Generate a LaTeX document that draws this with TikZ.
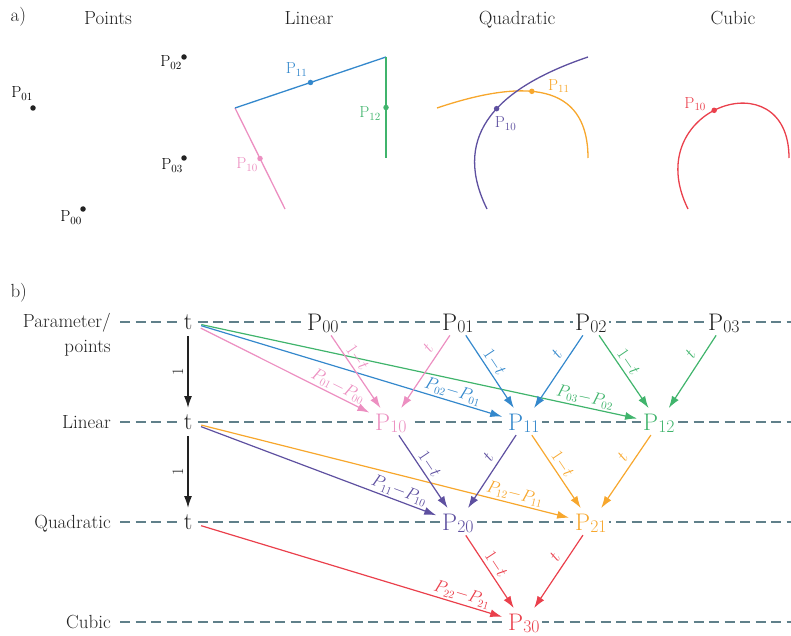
\documentclass[tikz,border=0pt]{standalone}
\usepackage{amsmath}
\usepackage{tikz}
\usetikzlibrary{arrows.meta,calc,positioning}
\definecolor{bzpink}{RGB}{236,143,193}
\definecolor{bzblue}{RGB}{52,136,204}
\definecolor{bzgreen}{RGB}{64,180,108}
\definecolor{bzpurple}{RGB}{94,80,160}
\definecolor{bzorange}{RGB}{247,167,45}
\definecolor{bzred}{RGB}{234,64,76}
\definecolor{bzrule}{RGB}{96,128,138}
\definecolor{bzink}{RGB}{34,34,34}
\newcommand\bzP[1]{P\raisebox{-.12em}{\scalebox{.74}{#1}}}
\tikzset{
 bz curve/.style={line width=1.3pt},
 bz dot/.style={circle,fill=#1,minimum size=5.5pt,inner sep=0pt,outer sep=0pt},
 bz dot/.default=bzink,
 bz point label/.style={font=\fontsize{16}{18}\selectfont,inner sep=0pt},
 bz title/.style={font=\fontsize{19}{22}\selectfont,anchor=base,text=bzink},
 bz row/.style={font=\fontsize{19}{25}\selectfont,anchor=base east,align=right,
                inner sep=0pt,text=bzink},
 bz level/.style={draw=bzrule,line width=1.4pt,dash pattern=on 10pt off 5.5pt},
 bz var/.style={font=\fontsize{24}{26}\selectfont,fill=white,inner xsep=2pt,
                inner ysep=2pt,anchor=base,text=bzink},
 bz arrow/.style={line width=1.2pt,-{Latex[length=12pt,width=8pt]},shorten >=4pt},
 bz weight label/.style={font=\fontsize{17}{19}\selectfont,sloped,above,inner sep=2pt},
 bz diff label/.style={font=\fontsize{16}{18}\selectfont,sloped,above,inner sep=2pt},
 bz t label/.style={font=\fontsize{17}{19}\selectfont,sloped,above,inner sep=5pt},
 bz unit label/.style={font=\fontsize{16}{18}\selectfont,rotate=90,anchor=south,inner sep=4pt}
}
\begin{document}
\begin{tikzpicture}[x=1pt,y=-1pt]
 \useasboundingbox (0,0) rectangle (791,636);

 % a) control points and the curves they give
 \node[bz title,anchor=base west] (lbla) at (7,22) {a)};
 \node[bz title] (ttlpts) at (108,25) {Points};
 \node[bz title] (ttllin) at (309,25) {Linear};
 \node[bz title] (ttlquad) at (517,25) {Quadratic};
 \node[bz title] (ttlcub) at (733,25) {Cubic};

 \coordinate (p00) at (83,209);
 \coordinate (p01) at (33,108);
 \coordinate (p02) at (184,57);
 \coordinate (p03) at (184,158);
 \foreach \p in {p00,p01,p02,p03} \node[bz dot] at (\p) {};
 \node[bz point label,anchor=base east] (lp00) at ($(p00)+(-1,13)$) {P$_{00}$};
 \node[bz point label,anchor=base east] (lp01) at ($(p01)+(0,-10)$) {P$_{01}$};
 \node[bz point label,anchor=base east] (lp02) at ($(p02)+(-2,10)$) {P$_{02}$};
 \node[bz point label,anchor=base east] (lp03) at ($(p03)+(-1,12)$) {P$_{03}$};

 \coordinate (l00) at (285,209);
 \coordinate (l01) at (235,108);
 \coordinate (l02) at (386,57);
 \coordinate (l03) at (386,158);
 \draw[bz curve,bzpink] (l01) -- (l00) node[bz dot=bzpink,pos=.5] (l10) {};
 \draw[bz curve,bzblue] (l01) -- (l02) node[bz dot=bzblue,pos=.5] (l11) {};
 \draw[bz curve,bzgreen] (l02) -- (l03) node[bz dot=bzgreen,pos=.5] (l12) {};
 \node[bz point label,text=bzpink,anchor=base east] (ll10) at ($(l10)+(-2,10)$) {P$_{10}$};
 \node[bz point label,text=bzblue,anchor=base east] (ll11) at ($(l11)+(-3,-9)$) {P$_{11}$};
 \node[bz point label,text=bzgreen,anchor=base east] (ll12) at ($(l12)+(-5,10)$) {P$_{12}$};

 % quadratic arcs written as cubics (controls at 2/3 towards the middle point)
 \coordinate (q00) at (487,209);
 \coordinate (q01) at (437,108);
 \coordinate (q02) at (588,57);
 \coordinate (q03) at (588,158);
 \draw[bz curve,bzorange] (q01) .. controls ($(q01)!2/3!(q02)$) and ($(q03)!2/3!(q02)$) .. (q03)
   node[bz dot=bzorange,pos=.39] (q11) {};
 \draw[bz curve,bzpurple] (q00) .. controls ($(q00)!2/3!(q01)$) and ($(q02)!2/3!(q01)$) .. (q02)
   node[bz dot=bzpurple,pos=.58] (q10) {};
 \node[bz point label,text=bzpurple,anchor=base west] (lq10) at ($(q10)+(-2,19)$) {P$_{10}$};
 \node[bz point label,text=bzorange,anchor=base west] (lq11) at ($(q11)+(16,-1)$) {P$_{11}$};

 \coordinate (c00) at (688,209);
 \coordinate (c01) at (638,108);
 \coordinate (c02) at (789,57);
 \coordinate (c03) at (789,158);
 \draw[bz curve,bzred] (c00) .. controls (c01) and (c02) .. (c03)
   node[bz dot=bzred,pos=.47] (c10) {};
 \node[bz point label,text=bzred,anchor=base east] (lc10) at ($(c10)+(-8,-2)$) {P$_{10}$};

 % b) dependency graph, one level per degree
 \node[bz title,anchor=base west] (lblb) at (7,297) {b)};
 \foreach \y in {322,422,522,622}
   \draw[bz level] (120,\y) -- (791,\y);

 \node[bz row,anchor=north east] (rpar) at (111,313) {Parameter/\\points};
 \node[bz row] (rlin) at (111,428) {Linear};
 \node[bz row] (rquad) at (111,528) {Quadratic};
 \node[bz row] (rcub) at (111,628) {Cubic};

 \node[bz var] (t0) at (188,329) {t};
 \node[bz var] (t1) at (188,429) {t};
 \node[bz var] (t2) at (188,529) {t};

 \node[bz var,anchor=base west] (P00) at (305,330) {\bzP{00}};
 \node[bz var,anchor=base west] (P01) at (440,330) {\bzP{01}};
 \node[bz var,anchor=base west] (P02) at (573,330) {\bzP{02}};
 \node[bz var,anchor=base west] (P03) at (706,330) {\bzP{03}};
 \node[bz var,anchor=base west,text=bzpink] (P10) at (373,430) {\bzP{10}};
 \node[bz var,anchor=base west,text=bzblue] (P11) at (506,430) {\bzP{11}};
 \node[bz var,anchor=base west,text=bzgreen] (P12) at (641,430) {\bzP{12}};
 \node[bz var,anchor=base west,text=bzpurple] (P20) at (440,530) {\bzP{20}};
 \node[bz var,anchor=base west,text=bzorange] (P21) at (573,530) {\bzP{21}};
 \node[bz var,anchor=base west,text=bzred] (P30) at (506,630) {\bzP{30}};

 \draw[bz arrow,bzink,line width=1.6pt,shorten <=5pt] (t0) -- node[bz unit label] {1} (t1);
 \draw[bz arrow,bzink,line width=1.6pt,shorten <=5pt] (t1) -- node[bz unit label] {1} (t2);

 % linear
 \draw[bz arrow,bzgreen,shorten <=7pt] (t0) -- node[bz diff label,pos=.87] {$P_{03}{-}P_{02}$} (P12);
 \draw[bz arrow,bzblue,shorten <=7pt] (t0) -- node[bz diff label,pos=.82] {$P_{02}{-}P_{01}$} (P11);
 \draw[bz arrow,bzpink,shorten <=7pt] (t0) -- node[bz diff label,pos=.78] {$P_{01}{-}P_{00}$} (P10);
 \draw[bz arrow,bzpink] (P00) -- node[bz weight label,pos=.36] {$1{-}t$} (P10);
 \draw[bz arrow,bzpink] (P01) -- node[bz t label,pos=.25] {$t$} (P10);
 \draw[bz arrow,bzblue] (P01) -- node[bz weight label,pos=.42] {$1{-}t$} (P11);
 \draw[bz arrow,bzblue] (P02) -- node[bz t label,pos=.33] {$t$} (P11);
 \draw[bz arrow,bzgreen] (P02) -- node[bz weight label,pos=.42] {$1{-}t$} (P12);
 \draw[bz arrow,bzgreen] (P03) -- node[bz t label,pos=.33] {$t$} (P12);

 % quadratic
 \draw[bz arrow,bzorange,shorten <=7pt] (t1) -- node[bz diff label,pos=.84] {$P_{12}{-}P_{11}$} (P21);
 \draw[bz arrow,bzpurple,shorten <=7pt] (t1) -- node[bz diff label,pos=.82] {$P_{11}{-}P_{10}$} (P20);
 \draw[bz arrow,bzpurple] (P10) -- node[bz weight label,pos=.45] {$1{-}t$} (P20);
 \draw[bz arrow,bzpurple] (P11) -- node[bz t label,pos=.37] {$t$} (P20);
 \draw[bz arrow,bzorange] (P11) -- node[bz weight label,pos=.45] {$1{-}t$} (P21);
 \draw[bz arrow,bzorange] (P12) -- node[bz t label,pos=.37] {$t$} (P21);

 % cubic
 \draw[bz arrow,bzred,shorten <=7pt] (t2) -- node[bz diff label,pos=.85] {$P_{22}{-}P_{21}$} (P30);
 \draw[bz arrow,bzred] (P20) -- node[bz weight label,pos=.45] {$1{-}t$} (P30);
 \draw[bz arrow,bzred] (P21) -- node[bz t label,pos=.37] {$t$} (P30);
\end{tikzpicture}
\end{document}
